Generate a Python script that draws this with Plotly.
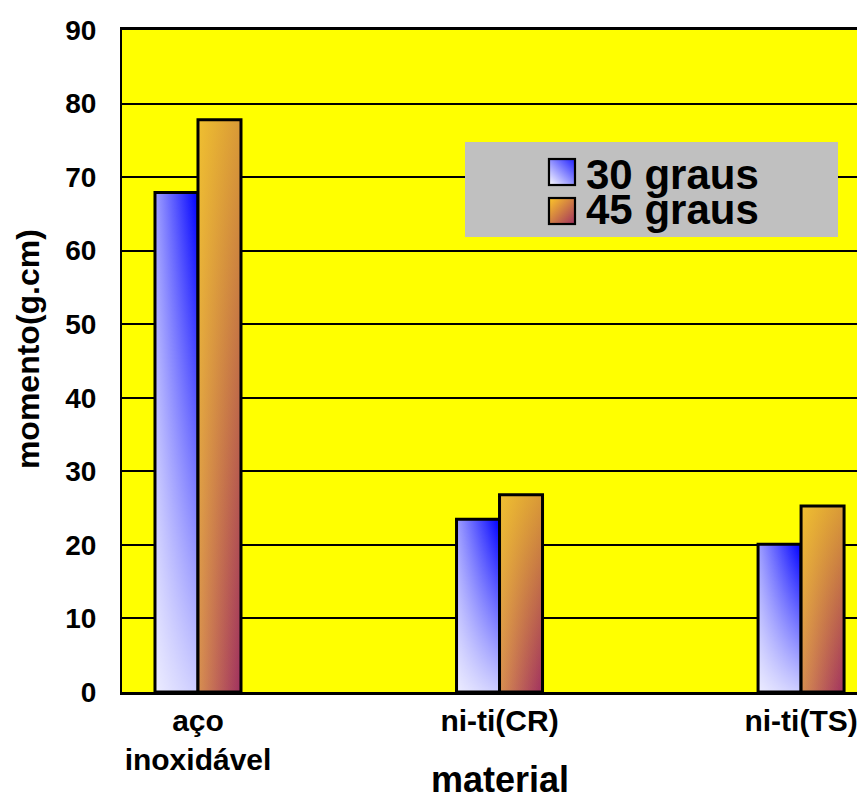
import base64
import plotly.graph_objects as go

# ---- data ----
categories = ["aço<br>inoxidável", "ni-ti(CR)", "ni-ti(TS)"]
series_names = ["30 graus", "45 graus"]
values_30 = [67.9, 23.5, 20.1]
values_45 = [77.8, 26.8, 25.3]
y_ticks = [0, 10, 20, 30, 40, 50, 60, 70, 80, 90]

FONT = "Liberation Sans, Arial, sans-serif"
BAR_W = 0.1426

# gradient styles (base horizontal + vertical overlay -> diagonal look)
styles = {
    "30 graus": dict(
        base=[[0, "#a0a0ff"], [1, "#0000ff"]],
        over=[[0, "rgba(255,255,255,0.8)"], [1, "rgba(255,255,255,0)"]],
        offset=-1,
    ),
    "45 graus": dict(
        base=[[0, "#d89050"], [1, "#a03060"]],
        over=[[0, "rgba(255,223,27,0)"], [1, "rgba(255,223,27,0.6)"]],
        offset=0,
    ),
}

fig = go.Figure()
positions = list(range(len(categories)))

for name, vals in zip(series_names, [values_30, values_45]):
    st = styles[name]
    for c, v in zip(positions, vals):
        x0 = c + st["offset"] * BAR_W
        x1 = x0 + BAR_W
        xs = [x0, x0, x1, x1, x0]
        ys = [0, v, v, 0, 0]
        fig.add_trace(go.Scatter(
            x=xs, y=ys, mode="none", fill="toself",
            fillgradient=dict(type="horizontal", colorscale=st["base"]),
            showlegend=False, hoverinfo="skip"))
        fig.add_trace(go.Scatter(
            x=xs, y=ys, mode="none", fill="toself",
            fillgradient=dict(type="vertical", colorscale=st["over"]),
            showlegend=False, hoverinfo="skip"))
        fig.add_trace(go.Scatter(
            x=xs, y=ys, mode="lines", line=dict(color="black", width=3),
            showlegend=False, name=name, hovertemplate=f"{name}: %{{y}}<extra></extra>"))

# ---- legend box as an svg image ----
legend_svg = """<svg xmlns='http://www.w3.org/2000/svg' width='373' height='95' viewBox='0 0 373 95'>
<defs>
<linearGradient id='g30' x1='0' y1='1' x2='1' y2='0'>
<stop offset='0' stop-color='#ffffff'/><stop offset='1' stop-color='#2020ff'/></linearGradient>
<linearGradient id='g45' x1='0' y1='0' x2='1' y2='1'>
<stop offset='0' stop-color='#ffc828'/><stop offset='1' stop-color='#a03060'/></linearGradient>
</defs>
<rect x='0' y='0' width='373' height='95' fill='#c0c0c0'/>
<rect x='84' y='17' width='26' height='26' fill='url(#g30)' stroke='black' stroke-width='2.2'/>
<rect x='84' y='56' width='26' height='26' fill='url(#g45)' stroke='black' stroke-width='2.2'/>
</svg>"""
legend_src = "data:image/svg+xml;base64," + base64.b64encode(legend_svg.encode()).decode()

fig.add_layout_image(dict(
    source=legend_src, xref="paper", yref="paper",
    x=0.4616, y=0.8308, sizex=0.5021, sizey=0.1435,
    xanchor="left", yanchor="top", sizing="stretch", layer="above"))

for label, ypos in zip(series_names, [0.781, 0.7295]):
    fig.add_annotation(text=label, xref="paper", yref="paper", x=0.6215, y=ypos,
                       xanchor="left", yanchor="middle", showarrow=False,
                       font=dict(family=FONT, size=42, color="black", weight="bold"))

# axis titles as annotations
fig.add_annotation(text="material", xref="paper", yref="paper", x=0.509, y=-0.166,
                   xanchor="center", yanchor="bottom", showarrow=False,
                   font=dict(family=FONT, size=36, color="black", weight="bold"))
fig.add_annotation(text="momento(g.cm)", xref="paper", yref="paper", x=-0.1265, y=0.518,
                   xanchor="center", yanchor="middle", textangle=-90, showarrow=False,
                   font=dict(family=FONT, size=32, color="black", weight="bold"))

# page body has an 8px margin: shrink the figure so the plot area lands at
# x 122..865, y 30..692 of the window
fig.update_layout(
    width=857, height=797,
    margin=dict(l=114, r=0, t=22, b=113),
    paper_bgcolor="white", plot_bgcolor="#ffff00",
    showlegend=False,
    xaxis=dict(
        range=[-0.252, 2.212], tickmode="array", tickvals=positions, ticktext=categories,
        showgrid=False, zeroline=False, showline=True, linecolor="black", linewidth=3,
        mirror=True, ticks="", ticklabelstandoff=0,
        tickfont=dict(family=FONT, size=30, color="black", weight="bold"),
    ),
    yaxis=dict(
        range=[0, 90], tickmode="array", tickvals=y_ticks,
        showgrid=True, gridcolor="black", gridwidth=2, zeroline=False,
        showline=True, linecolor="black", linewidth=2, ticks="", ticklabelstandoff=18,
        tickfont=dict(family=FONT, size=28, color="black", weight="bold"),
    ),
)

fig.write_html("out.html")
